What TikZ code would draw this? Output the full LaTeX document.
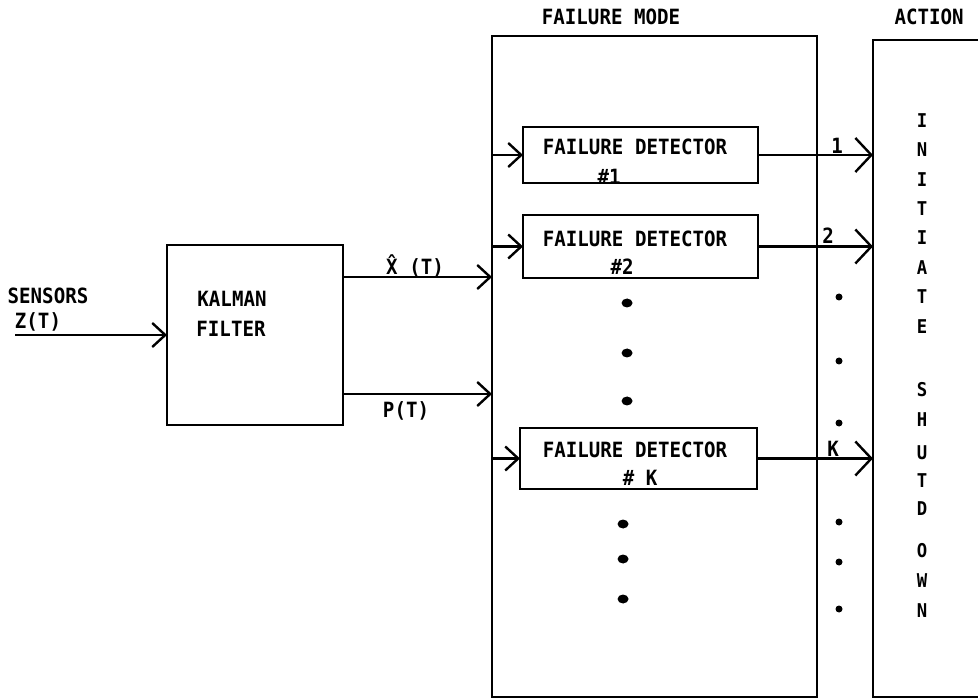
\documentclass[tikz,border=0pt]{standalone}
\usepackage{fontspec}
\usepackage{tikz}
\usetikzlibrary{arrows.meta}
\newfontfamily\plotfont{DejaVu Sans Mono}[FakeStretch=0.91]

\tikzset{
  blk/.style={draw, line width=1.2pt, inner sep=0pt, outer sep=0pt},
  lbl/.style={font=\plotfont\bfseries\fontsize{10.5}{12}\selectfont, inner sep=0pt, anchor=base},
  vlbl/.style={lbl, font=\plotfont\bfseries\fontsize{9.5}{11}\selectfont},
  sig/.style={line width=1.2pt, -{Straight Barb[length=6.5pt,width=12pt]}},
  bigsig/.style={line width=1.2pt, -{Straight Barb[length=8pt,width=17pt]}},
}

\begin{document}
\begin{tikzpicture}[x=0.5pt,y=-0.5pt]
  \clip (0,0) rectangle (978,699);
  % main blocks
  \node[blk, minimum width=88pt, minimum height=90pt] (kal) at (255,335) {};
  \node[blk, minimum width=162.5pt, minimum height=330.5pt] (fm) at (654.5,366.5) {};
  \node[blk, minimum width=63.5pt, minimum height=328.5pt] (act) at (936.5,368.5) {};
  \node[lbl] (fmtitle) at (611,25) {FAILURE MODE};
  \node[lbl] (acttitle) at (929,25) {ACTION};
  % kalman filter
  \node[lbl] (sens) at (48,304) {SENSORS};
  \node[lbl] (zt) at (38,329) {Z(T)};
  \node[lbl] (kal1) at (232,307) {KALMAN};
  \node[lbl] (kal2) at (231,337) {FILTER};
  \coordinate (zin) at (15,335);
  \draw[sig] (zin) -- (kal.west);
  \coordinate (xout) at ([yshift=29pt]kal.east);
  \coordinate (pout) at ([yshift=-29.5pt]kal.east);
  \draw[sig] (xout) -- (xout -| fm.west);
  \draw[sig] (pout) -- (pout -| fm.west);
  \node[lbl] (xhat) at (415,275) {\^{X} (T)};
  \node[lbl] (pt) at (406,417) {P(T)};
  % detector 1
  \node[blk, minimum width=117.5pt, minimum height=28pt] (det1) at (640.5,155) {};
  \node[lbl] (det1a) at (635,155) {FAILURE DETECTOR};
  \node[lbl] (det1b) at (609,185) {\#1};
  % detector 2
  \node[blk, minimum width=117.5pt, minimum height=31.5pt] (det2) at (640.5,246.5) {};
  \node[lbl] (det2a) at (635,247) {FAILURE DETECTOR};
  \node[lbl] (det2b) at (622,275) {\#2};
  % detector K
  \node[blk, minimum width=118.5pt, minimum height=30.5pt] (detk) at (638.5,458.5) {};
  \node[lbl] (detka) at (635,457) {FAILURE DETECTOR};
  \node[lbl] (detkb) at (640,485) {\# K};
  \foreach \d in {det1,det2,detk} {
    \draw[sig] (fm.west |- \d.west) -- (\d.west);
    \draw[bigsig] (\d.east) -- (act.west |- \d.east);
  }
  \node[lbl] (out1) at (837,154) {1};
  \node[lbl] (out2) at (828,244) {2};
  \node[lbl] (outk) at (833,456) {K};
  % dots
  \foreach \xx/\yy in {627/303,627/353,627/401,623/524,623/559,623/599}
    \fill (\xx,\yy) ellipse (5.5 and 4.5);
  \foreach \yy in {297,361,423,522,562,609}
    \fill (839,\yy) circle (3.5);
  % initiate shutdown
  \foreach \ch/\yy [count=\i] in {I/128,N/157,I/187,T/216,I/245,A/275,T/304,E/334,
      S/397,H/427,U/459,T/487,D/515,O/557,W/587,N/617}
    \node[vlbl] (sd\i) at (922,\yy) {\ch};
\end{tikzpicture}
\end{document}
